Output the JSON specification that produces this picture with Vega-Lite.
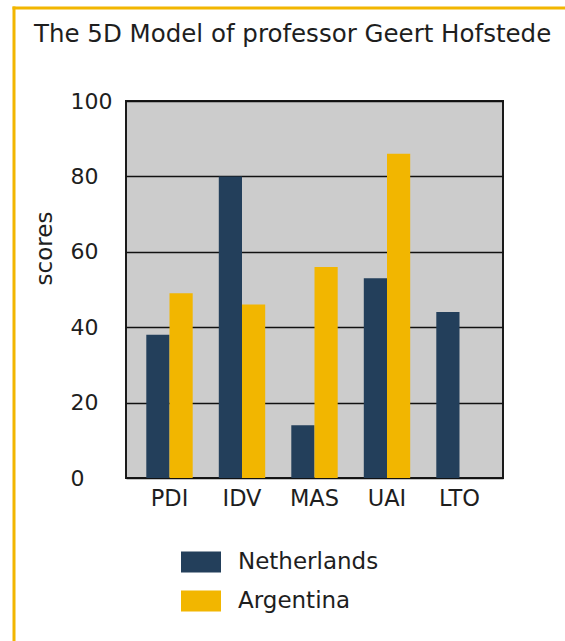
{
  "$schema": "https://vega.github.io/schema/vega-lite/v6.json",
  "width": 377,
  "height": 377,
  "autosize": {"type": "none"},
  "padding": {"left": 126, "top": 101, "right": 62, "bottom": 163},
  "background": "white",
  "title": {
    "text": "The 5D Model of professor Geert Hofstede",
    "anchor": "start",
    "frame": "group",
    "font": "DejaVu Sans",
    "fontSize": 24.5,
    "fontWeight": "normal",
    "color": "#1e1e1e",
    "baseline": "alphabetic",
    "offset": 0,
    "dx": -92,
    "dy": 59
  },
  "data": {
    "values": [
      {"dimension": "PDI", "country": "Netherlands", "score": 38},
      {"dimension": "PDI", "country": "Argentina", "score": 49},
      {"dimension": "IDV", "country": "Netherlands", "score": 80},
      {"dimension": "IDV", "country": "Argentina", "score": 46},
      {"dimension": "MAS", "country": "Netherlands", "score": 14},
      {"dimension": "MAS", "country": "Argentina", "score": 56},
      {"dimension": "UAI", "country": "Netherlands", "score": 53},
      {"dimension": "UAI", "country": "Argentina", "score": 86},
      {"dimension": "LTO", "country": "Netherlands", "score": 44}
    ]
  },
  "config": {
    "view": {"fill": "#cccccc", "stroke": "#1a1a1a", "strokeWidth": 2},
    "font": "DejaVu Sans"
  },
  "layer": [
    {
      "mark": {"type": "bar"},
      "encoding": {
        "x": {
          "field": "dimension",
          "type": "nominal",
          "sort": ["PDI", "IDV", "MAS", "UAI", "LTO"],
          "scale": {"paddingInner": 0.36, "paddingOuter": 0.28},
          "axis": {
            "orient": "bottom",
            "title": null,
            "labelAngle": 0,
            "ticks": false,
            "tickSize": 0,
            "domain": false,
            "labelFont": "DejaVu Sans",
            "labelFontSize": 22.5,
            "labelColor": "#1e1e1e",
            "labelBaseline": "alphabetic",
            "labelPadding": 27
          }
        },
        "xOffset": {
          "field": "country",
          "type": "nominal",
          "sort": ["Netherlands", "Argentina"],
          "scale": {"paddingInner": 0, "paddingOuter": 0}
        },
        "y": {
          "field": "score",
          "type": "quantitative",
          "scale": {"domain": [0, 100], "nice": false},
          "axis": {
            "orient": "left",
            "values": [0, 20, 40, 60, 80, 100],
            "ticks": false,
            "tickSize": 0,
            "domain": false,
            "grid": true,
            "gridColor": "#111111",
            "gridWidth": 1.6,
            "labelFont": "DejaVu Sans",
            "labelFontSize": 22,
            "labelColor": "#1e1e1e",
            "labelAlign": "left",
            "labelPadding": 56,
            "title": "scores",
            "titleFont": "DejaVu Sans",
            "titleFontSize": 23,
            "titleFontWeight": "normal",
            "titleColor": "#1e1e1e",
            "titleAngle": -90,
            "titleAlign": "center",
            "titleBaseline": "alphabetic",
            "titleX": -75,
            "titleY": 147
          }
        },
        "color": {
          "field": "country",
          "type": "nominal",
          "scale": {
            "domain": ["Netherlands", "Argentina"],
            "range": ["#233f5b", "#f2b600"]
          },
          "legend": {
            "orient": "none",
            "legendX": 55,
            "legendY": 441,
            "title": null,
            "padding": 0,
            "symbolType": "M-1,-0.525H1V0.525H-1Z",
            "symbolSize": 1600,
            "symbolStrokeWidth": 0,
            "symbolOpacity": 1,
            "labelFont": "DejaVu Sans",
            "labelFontSize": 23,
            "labelColor": "#1e1e1e",
            "labelOffset": 17,
            "rowPadding": 7
          }
        }
      }
    },
    {
      "mark": {"type": "point", "opacity": 0},
      "encoding": {
        "x": {
          "field": "score",
          "type": "quantitative",
          "scale": {"domain": [0, 100], "range": [-114, 800]},
          "axis": {
            "orient": "top",
            "offset": 93.5,
            "title": null,
            "labels": false,
            "ticks": false,
            "grid": false,
            "domainColor": "#f2b600",
            "domainWidth": 3
          }
        },
        "y": {
          "field": "score",
          "type": "quantitative",
          "scale": {"domain": [0, 100], "range": [800, -95]},
          "axis": {
            "orient": "left",
            "offset": 112.5,
            "title": null,
            "labels": false,
            "ticks": false,
            "grid": false,
            "domainColor": "#f2b600",
            "domainWidth": 3
          }
        }
      }
    }
  ],
  "resolve": {
    "scale": {"x": "independent", "y": "independent"},
    "axis": {"x": "independent", "y": "independent"}
  }
}
